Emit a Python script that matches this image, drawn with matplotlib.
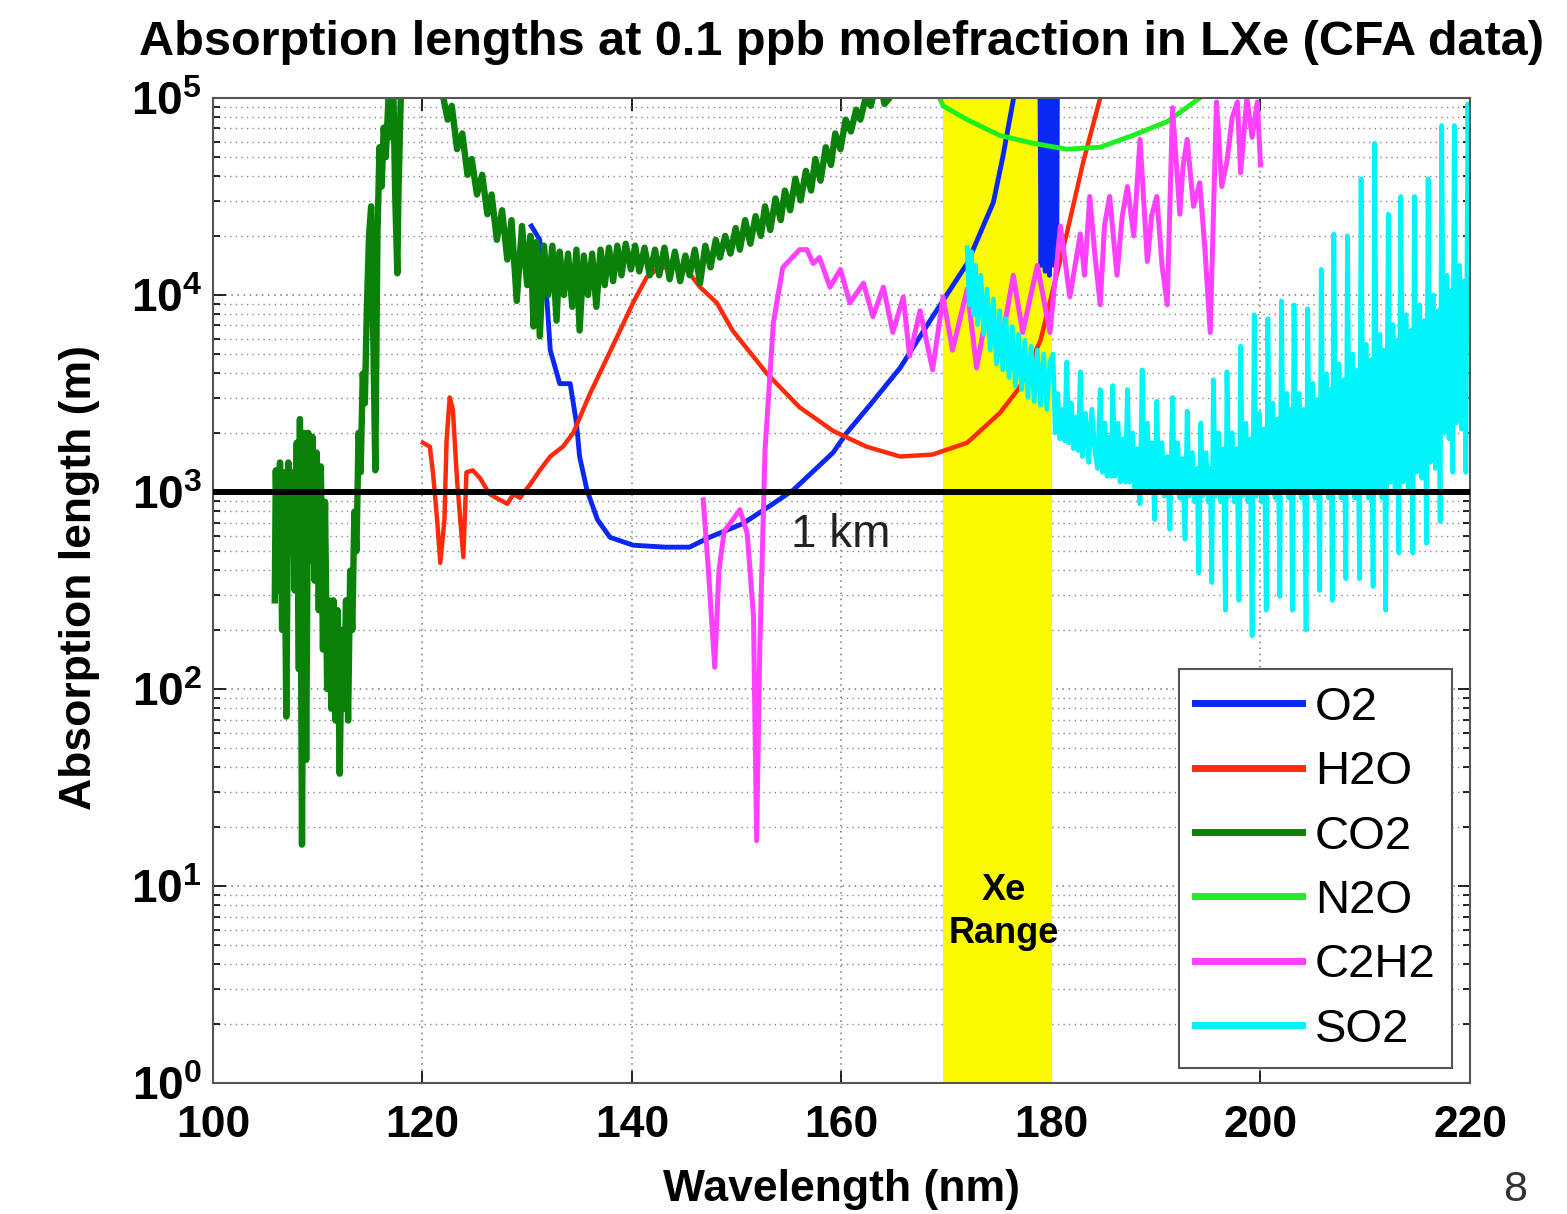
"""Absorption lengths of impurities in liquid xenon (CFA data), log scale."""

import numpy as np
import matplotlib
matplotlib.use("Agg")
import matplotlib.pyplot as plt
from matplotlib.ticker import NullFormatter, LogLocator

plt.rcParams["font.family"] = ["Liberation Sans", "DejaVu Sans"]
plt.rcParams["mathtext.fontset"] = "custom"
plt.rcParams["mathtext.rm"] = "Liberation Sans:bold"
plt.rcParams["mathtext.bf"] = "Liberation Sans:bold"

# wavelength in nm, absorption length given as log10(metres)
o2_nm = [130.4, 131.2, 131.9, 132.2, 133.1, 134.1, 134.7, 135.0, 135.7, 136.7,
         137.9, 140.1, 143.2, 145.5, 147.4, 150.6, 152.9, 155.4, 159.2, 160.5,
         162.7, 165.6, 168.7, 172.0, 174.5, 175.4, 176.4, 177.2, 178.2, 178.9,
         179.05, 179.25, 179.45, 179.65, 179.85, 180.05, 180.25, 180.45, 180.55, 180.65]
o2_log = [4.35, 4.28, 3.96, 3.72, 3.55, 3.55, 3.35, 3.18, 3.01, 2.86,
          2.77, 2.73, 2.72, 2.72, 2.77, 2.84, 2.92, 3.01, 3.20, 3.30,
          3.44, 3.63, 3.89, 4.16, 4.47, 4.70, 4.99, 5.30, 5.60, 5.50,
          4.15, 5.40, 4.12, 5.40, 4.10, 5.40, 4.15, 5.40, 4.20, 5.60]

h2o_nm = [120.05, 120.7, 121.0, 121.4, 121.7, 122.1, 122.3, 122.6, 122.9, 123.3,
          123.9, 124.2, 124.8, 125.5, 126.4, 127.4, 128.1, 128.7, 129.3, 130.3,
          131.2, 132.2, 133.4, 134.4, 136.0, 136.9, 138.6, 140.1, 141.4, 142.4,
          143.8, 145.2, 146.5, 148.1, 149.6, 152.9, 156.0, 159.2, 162.4, 165.6,
          168.7, 172.0, 175.1, 177.0, 179.0, 181.5, 183.1, 184.7, 185.6]
h2o_log = [3.25, 3.23, 3.10, 2.86, 2.64, 2.86, 3.26, 3.48, 3.42, 3.06,
           2.67, 3.10, 3.11, 3.07, 2.99, 2.96, 2.94, 2.99, 2.97, 3.04,
           3.11, 3.18, 3.23, 3.30, 3.50, 3.60, 3.79, 3.96, 4.09, 4.13,
           4.15, 4.13, 4.04, 3.96, 3.82, 3.60, 3.43, 3.31, 3.23, 3.18,
           3.19, 3.25, 3.40, 3.53, 3.77, 4.31, 4.68, 5.00, 5.20]

co2_nm = [105.9, 106.0, 106.2, 106.4, 106.6, 106.8, 107.0, 107.2, 107.4, 107.6,
          107.8, 108.0, 108.2, 108.3, 108.5, 108.7, 108.9, 109.1, 109.3, 109.5,
          109.7, 109.9, 110.1, 110.3, 110.5, 110.7, 110.9, 111.1, 111.3, 111.5,
          111.7, 111.9, 112.1, 112.3, 112.5, 112.7, 112.9, 113.1, 113.3, 113.5,
          113.7, 113.9, 114.1, 114.3, 114.5, 114.7, 114.9, 115.1, 115.3, 115.5,
          115.7, 115.9, 116.1, 116.3, 116.5, 116.8, 117.0, 117.2, 117.4, 117.6,
          117.7, 118.2, 121.0, 121.9,
          122.0, 122.4, 122.8, 123.3, 123.8, 124.3, 124.7, 125.2, 125.7, 126.2,
          126.6, 127.1, 127.6, 128.1, 128.5, 129.0, 129.5, 130.0, 130.3, 130.6,
          130.9, 131.2, 131.6, 132.0, 132.4, 132.8, 133.1, 133.5, 133.9, 134.3,
          134.7, 135.0, 135.4, 135.8, 136.2, 136.6, 137.0, 137.4, 137.8, 138.2,
          138.6, 139.0, 139.4, 139.9, 140.3, 140.7, 141.2, 141.7, 142.2, 142.6,
          143.1, 143.6, 144.1, 144.6, 145.1, 145.5, 146.0, 146.5, 147.0, 147.5,
          148.0, 148.4, 148.9, 149.4, 149.9, 150.3, 150.8, 151.3, 151.8, 152.3,
          152.7, 153.2, 153.7, 154.2, 154.6, 155.1, 155.6, 156.1, 156.6, 157.1,
          157.5, 158.0, 158.5, 159.0, 159.4, 159.9, 160.4, 160.9, 161.4, 161.8,
          162.3, 162.8, 163.2, 163.7, 164.1, 164.6, 165.0]
co2_log = [2.45, 3.11, 2.50, 3.15, 2.30, 3.10, 1.86, 3.15, 2.70, 3.10,
           2.50, 3.25, 2.10, 3.37, 1.21, 3.30, 1.64, 3.30, 2.65, 3.28,
           2.55, 3.20, 2.40, 3.13, 2.20, 2.95, 2.00, 2.45, 1.90, 2.45,
           1.84, 2.40, 1.57, 2.30, 1.90, 2.45, 1.84, 2.60, 2.30, 2.90,
           2.70, 3.30, 3.10, 3.60, 3.45, 3.95, 4.30, 4.45, 3.80, 3.11,
           4.30, 4.75, 4.55, 4.85, 4.70, 5.05, 4.80, 5.10, 4.50, 4.11,
           4.50, 5.60, 6.00, 5.30,
           5.00, 4.89, 4.96, 4.74, 4.82, 4.61, 4.69, 4.51, 4.61, 4.41,
           4.51, 4.28, 4.43, 4.18, 4.38, 3.97, 4.35, 4.05, 4.30, 3.84,
           4.27, 3.79, 4.25, 4.00, 4.25, 3.87, 4.22, 4.00, 4.21, 3.94,
           4.23, 3.82, 4.20, 4.00, 4.21, 3.94, 4.23, 4.05, 4.24, 4.07,
           4.25, 4.10, 4.26, 4.13, 4.25, 4.12, 4.24, 4.10, 4.23, 4.10,
           4.24, 4.08, 4.22, 4.07, 4.20, 4.10, 4.23, 4.06, 4.25, 4.14,
           4.28, 4.19, 4.30, 4.21, 4.34, 4.23, 4.38, 4.26, 4.40, 4.30,
           4.45, 4.33, 4.49, 4.38, 4.53, 4.43, 4.59, 4.48, 4.63, 4.53,
           4.69, 4.58, 4.75, 4.66, 4.82, 4.74, 4.89, 4.83, 4.94, 4.89,
           5.00, 4.96, 5.05, 5.08, 4.97, 5.00, 5.10]

n2o_nm = [168.5, 169.7, 172.0, 175.1, 178.3, 181.5, 184.7, 187.8, 191.1, 194.2, 195.7]
n2o_log = [5.10, 4.96, 4.89, 4.81, 4.77, 4.74, 4.75, 4.81, 4.88, 5.00, 5.07]

c2h2_nm = [146.8, 147.3, 147.9, 148.3, 148.8, 149.5, 150.3, 151.0, 151.6, 151.9,
           152.2, 152.7, 153.5, 154.4, 156.0, 156.7, 157.3, 157.9, 158.9, 159.9,
           160.8, 162.1, 163.0, 164.0, 164.9, 165.9, 166.5, 167.5, 168.7, 169.7,
           170.6, 172.0, 172.9, 173.9, 175.1, 176.4, 177.3, 178.7, 179.9, 180.9,
           181.8, 182.8, 183.2, 183.7, 184.2, 184.7, 185.1, 185.6, 186.3, 186.8,
           187.3, 187.9, 188.5, 189.2, 189.6, 190.1, 190.6, 191.1, 191.6, 192.3,
           192.6, 193.0, 193.6, 194.2, 194.7, 195.2, 195.8, 196.3, 196.8, 197.3,
           197.8, 198.1, 198.7, 199.2, 199.7, 200.0]
c2h2_log = [2.96, 2.60, 2.11, 2.60, 2.80, 2.85, 2.91, 2.79, 2.37, 1.23,
            2.20, 3.21, 3.86, 4.14, 4.23, 4.23, 4.16, 4.19, 4.04, 4.13,
            3.96, 4.06, 3.89, 4.04, 3.81, 3.99, 3.69, 3.92, 3.62, 3.99,
            3.72, 4.03, 3.63, 3.92, 3.70, 4.10, 3.81, 4.15, 3.81, 4.35,
            3.99, 4.31, 4.10, 4.50, 4.20, 3.95, 4.35, 4.50, 4.10, 4.40,
            4.55, 4.30, 4.79, 4.17, 4.40, 4.50, 4.15, 3.95, 4.95, 4.41,
            4.65, 4.79, 4.45, 4.57, 4.23, 3.81, 4.98, 4.55, 4.68, 4.90,
            4.98, 4.62, 5.00, 4.80, 4.98, 4.66]

so2_nm = [172.0, 172.2, 172.4, 172.6, 172.8, 173.0, 173.3, 173.6, 173.9, 174.2,
          174.5, 174.8, 175.1, 175.4, 175.7, 176.0, 176.3, 176.6, 176.9, 177.2,
          177.5, 177.8, 178.1, 178.4, 178.7, 179.0, 179.3, 179.6, 179.9,
          180.2, 180.4, 180.65, 180.85, 181.1, 181.3,
          181.5, 181.7, 181.95, 182.15, 182.4, 182.6,
          182.8, 183.0, 183.3, 183.6, 183.9, 184.2, 184.45,
          184.7, 184.9, 185.15, 185.35, 185.6, 185.75,
          185.9, 186.1, 186.4, 186.6, 186.85, 187.1,
          187.3, 187.5, 187.8, 188.0, 188.25, 188.5,
          188.7, 188.9, 189.2, 189.4, 189.65, 189.9,
          190.1, 190.3, 190.6, 190.8, 191.1, 191.35,
          191.6, 191.8, 192.1, 192.3, 192.55, 192.8,
          193.0, 193.2, 193.5, 193.7, 193.95, 194.1,
          194.3, 194.5, 194.8, 195.0, 195.2, 195.35,
          195.5, 195.7, 196.0, 196.2, 196.45, 196.65,
          196.8, 197.0, 197.3, 197.5, 197.75, 197.95,
          198.1, 198.3, 198.6, 198.8, 199.0, 199.2,
          199.4, 199.6, 199.9, 200.1, 200.35, 200.55,
          200.7, 200.9, 201.2, 201.4, 201.65, 201.85,
          202.0, 202.2, 202.5, 202.7, 202.9, 203.05,
          203.2, 203.4, 203.7, 203.9, 204.15, 204.35,
          204.5, 204.7, 205.0, 205.2, 205.45, 205.65,
          205.8, 206.0, 206.3, 206.5, 206.7, 206.85,
          207.0, 207.2, 207.5, 207.7, 207.95, 208.15,
          208.3, 208.5, 208.8, 209.0, 209.25, 209.45,
          209.6, 209.8, 210.1, 210.3, 210.55, 210.75,
          210.9, 211.1, 211.4, 211.6, 211.8, 211.95,
          212.2, 212.4, 212.65, 212.85, 213.05, 213.2,
          213.4, 213.6, 213.9, 214.1, 214.35, 214.55,
          214.7, 214.9, 215.2, 215.4, 215.65, 215.85,
          216.0, 216.2, 216.5, 216.7, 216.95, 217.15,
          217.3, 217.5, 217.8, 218.0, 218.2, 218.35,
          218.5, 218.7, 219.0, 219.2, 219.4, 219.6,
          219.8, 220.0]
so2_log = [4.24, 3.95, 4.22, 3.90, 4.15, 3.85, 4.10, 3.80, 4.03, 3.72,
           3.98, 3.65, 3.92, 3.62, 3.88, 3.58, 3.84, 3.54, 3.80, 3.52,
           3.77, 3.48, 3.74, 3.46, 3.72, 3.44, 3.70, 3.42, 3.66,
           3.70, 3.30, 3.50, 3.27, 3.42, 3.26,
           3.66, 3.25, 3.45, 3.22, 3.38, 3.21,
           3.61, 3.18, 3.40, 3.15, 3.42, 3.20, 3.12,
           3.52, 3.10, 3.35, 3.08, 3.28, 3.08,
           3.54, 3.08, 3.35, 3.05, 3.27, 3.05,
           3.52, 3.05, 3.30, 3.02, 3.22, 2.94,
           3.62, 3.02, 3.35, 3.00, 3.25, 2.86,
           3.46, 3.00, 3.25, 2.98, 3.18, 2.81,
           3.48, 3.00, 3.25, 2.97, 3.17, 2.76,
           3.41, 2.98, 3.20, 2.95, 3.12, 2.59,
           3.35, 2.98, 3.20, 2.95, 3.12, 2.54,
           3.57, 2.98, 3.30, 2.95, 3.22, 2.40,
           3.61, 2.98, 3.30, 2.95, 3.22, 2.45,
           3.74, 2.98, 3.35, 2.95, 3.27, 2.27,
           3.90, 2.98, 3.40, 2.95, 3.32, 2.40,
           3.88, 3.00, 3.45, 2.97, 3.37, 2.47,
           3.97, 3.00, 3.50, 2.97, 3.42, 2.40,
           3.95, 3.00, 3.50, 2.97, 3.42, 2.30,
           3.93, 3.00, 3.55, 2.97, 3.47, 2.50,
           4.13, 3.00, 3.60, 2.97, 3.52, 2.45,
           4.31, 3.00, 3.65, 2.97, 3.57, 2.56,
           4.30, 3.00, 3.70, 2.97, 3.62, 2.56,
           4.59, 3.00, 3.75, 2.97, 3.67, 2.52,
           4.77, 3.00, 3.80, 2.97, 3.72, 2.40,
           4.41, 3.05, 3.85, 3.02, 3.77, 2.69,
           4.50, 3.05, 3.90, 3.02, 3.82, 2.69,
           4.50, 3.10, 3.95, 3.07, 3.87, 2.74,
           4.59, 3.15, 4.00, 3.12, 3.92, 2.85,
           4.86, 3.30, 4.10, 3.27, 4.02, 3.10,
           4.86, 3.35, 4.15, 3.32, 4.07, 3.10,
           4.97, 4.00]

series = [
    ("O2", o2_nm, o2_log, "#0A28F5", 3.5),
    ("H2O", h2o_nm, h2o_log, "#FF2A0A", 3.2),
    ("CO2", co2_nm, co2_log, "#0A820A", 4.6),
    ("N2O", n2o_nm, n2o_log, "#1EF01E", 3.5),
    ("C2H2", c2h2_nm, c2h2_log, "#FF40FF", 3.6),
    ("SO2", so2_nm, so2_log, "#00F5FA", 3.4),
]

xe_range = (169.7, 180.1)
one_km = 1000.0
x_ticks = [100, 120, 140, 160, 180, 200, 220]
y_exponents = [0, 1, 2, 3, 4, 5]

fig = plt.figure(figsize=(15.67, 12.14), dpi=100, facecolor="white")
ax = fig.add_axes([0.1359, 0.1079, 0.8022, 0.8114])
ax.set_yscale("log")
ax.set_xlim(100, 220)
ax.set_ylim(1, 1e5)
ax.set_axisbelow(True)

ax.axvspan(*xe_range, color="#FAFA00", lw=0, zorder=1)

for name, nm, lg, color, lw in series:
    assert len(nm) == len(lg), name
    ax.plot(nm, 10 ** np.asarray(lg), color=color, lw=lw, label=name, zorder=2)

ax.axhline(one_km, color="black", lw=4.3, zorder=3)
ax.text(155.2, 10 ** 2.78, "1 km", fontsize=33, color="#222222", va="center", ha="left")
ax.text(175.5, 7.4, "Xe\nRange", fontsize=26, fontweight="bold", ha="center",
        va="center", linespacing=1.3, zorder=4)

ax.set_xticks(x_ticks)
ax.set_xticklabels([str(v) for v in x_ticks], fontsize=32, fontweight="bold")
ax.set_yticks([10.0 ** k for k in y_exponents])
ax.set_yticklabels([r"$\mathbf{10^{%d}}$" % k for k in y_exponents], fontsize=33)
ax.yaxis.set_minor_locator(LogLocator(base=10, subs=np.arange(2, 10)))
ax.yaxis.set_minor_formatter(NullFormatter())
ax.tick_params(which="both", direction="in", top=True, right=True, width=1.2)
ax.tick_params(which="major", length=9)
ax.tick_params(which="minor", length=5)
ax.tick_params(axis="x", pad=16)
ax.tick_params(axis="y", pad=8)

ax.grid(True, which="major", ls=(0, (1, 3)), color="#777777", lw=1.1)
ax.grid(True, which="minor", axis="y", ls=(0, (1, 3)), color="#888888", lw=1.0)
for spine in ax.spines.values():
    spine.set_color("#555555")
    spine.set_linewidth(1.5)

leg = ax.legend(loc="lower right", bbox_to_anchor=(0.9857, 0.0152), fontsize=34,
                handlelength=2.25, handletextpad=0.28, labelspacing=0.43,
                borderpad=0.35, borderaxespad=0, fancybox=False, framealpha=1)
leg.get_frame().set_edgecolor("#555555")
leg.get_frame().set_linewidth(1.5)
for line in leg.get_lines():
    line.set_linewidth(5)

fig.text(0.5367, 0.9654, "Absorption lengths at 0.1 ppb molefraction in LXe (CFA data)",
         fontsize=35, fontweight="bold", ha="center", va="center")
fig.text(0.5367, 0.0198, "Wavelength (nm)", fontsize=32, fontweight="bold",
         ha="center", va="center")
fig.text(0.051, 0.524, "Absorption length (m)", fontsize=32, fontweight="bold",
         ha="center", va="center", rotation=90)
fig.text(0.967, 0.02, "8", fontsize=31, color="#333333", ha="center", va="center")

fig.savefig("out.png", dpi=100, facecolor="white")
